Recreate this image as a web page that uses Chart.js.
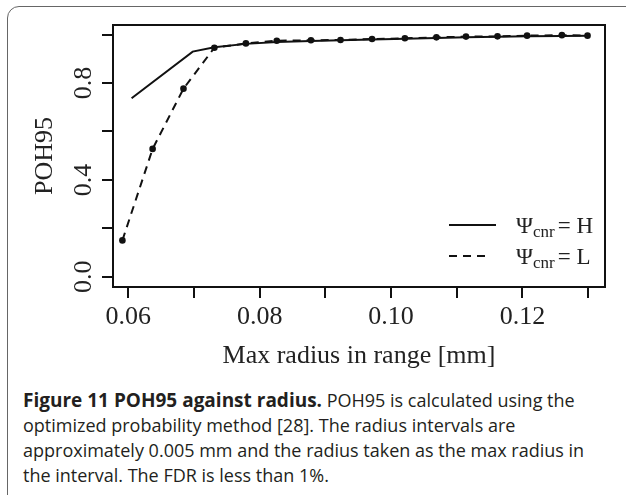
<!DOCTYPE html>
<html>
<head>
<meta charset="utf-8">
<script src="https://cdn.jsdelivr.net/npm/chart.js"></script>
<style>
    html, body { margin: 0; padding: 0; background: #fff; }
    body { width: 626px; height: 495px; position: relative; overflow: hidden; }
    #frame {
        position: absolute; left: 7px; top: 6px; width: 700px; height: 600px;
        border: 1.5px solid #666; border-radius: 12px; box-sizing: border-box;
    }
    #wrap { position: absolute; left: 0; top: 0; width: 626px; height: 380px; }
    #caption {
        position: absolute; left: 23px; top: 388px; width: 600px; white-space: nowrap;
        font-family: "Open Sans", sans-serif; font-size: 18px; line-height: 25px; color: #231f20;
    }
    #caption b { font-weight: 700; font-size: 19px; }
</style>
</head>
<body>
<div id="frame"></div>
<div id="wrap"><canvas id="chart" width="626" height="380"></canvas></div>
<div id="caption"><b>Figure 11 POH95 against radius.</b> POH95 is calculated using the<br>optimized probability method [28]. The radius intervals are<br>approximately 0.005 mm and the radius taken as the max radius in<br>the interval. The FDR is less than 1%.</div>
<script>
// max radius (mm) and POH95 for the two settings
const radiusH = [0.0605, 0.0698, 0.0731, 0.0779, 0.0826, 0.0878, 0.0923, 0.0971, 0.1021, 0.1069, 0.1114, 0.1162, 0.1207, 0.1260, 0.1299];
const pohH = [0.737, 0.930, 0.948, 0.962, 0.970, 0.974, 0.977, 0.980, 0.983, 0.986, 0.989, 0.991, 0.993, 0.995, 0.996];

const radiusL = [0.0591, 0.0637, 0.0684, 0.0731, 0.0779, 0.0826, 0.0878, 0.0923, 0.0971, 0.1021, 0.1069, 0.1114, 0.1162, 0.1207, 0.1260, 0.1299];
const pohL = [0.150, 0.528, 0.777, 0.946, 0.964, 0.975, 0.977, 0.978, 0.982, 0.985, 0.989, 0.992, 0.993, 0.996, 0.998, 0.996];

const xTicks = [0.06, 0.07, 0.08, 0.09, 0.10, 0.11, 0.12, 0.13];
const xTickLabels = ['0.06', '', '0.08', '', '0.10', '', '0.12', ''];
const yTicks = [0.0, 0.2, 0.4, 0.6, 0.8, 1.0];
const yTickLabels = ['0.0', '', '0.4', '', '0.8', ''];

const serif = '"Liberation Serif", "Times New Roman", serif';

function toPoints(xs, ys) {
    return xs.map((x, i) => ({x: x, y: ys[i]}));
}

const boxPlugin = {
    id: 'box',
    afterDraw(chart) {
        const ctx = chart.ctx;
        const area = chart.chartArea;
        const yScale = chart.scales.y;

        ctx.save();
        ctx.strokeStyle = '#111';
        ctx.lineWidth = 2;
        ctx.strokeRect(area.left, area.top, area.right - area.left, area.bottom - area.top);

        // rotated y tick labels, R style
        ctx.fillStyle = '#222';
        ctx.font = '26px ' + serif;
        ctx.textAlign = 'center';
        ctx.textBaseline = 'middle';
        yTicks.forEach((v, i) => {
            if (!yTickLabels[i]) return;
            ctx.save();
            ctx.translate(84, yScale.getPixelForValue(v));
            ctx.rotate(-Math.PI / 2);
            ctx.fillText(yTickLabels[i], 0, 0);
            ctx.restore();
        });

        // legend
        const rows = [{dash: [], label: 'H', y: 225}, {dash: [8, 6], label: 'L', y: 256}];
        rows.forEach(row => {
            ctx.setLineDash(row.dash);
            ctx.lineWidth = 2;
            ctx.beginPath();
            ctx.moveTo(449, row.y);
            ctx.lineTo(row.dash.length ? 491 : 496, row.y);
            ctx.stroke();
            ctx.setLineDash([]);

            let x = 516;
            ctx.textAlign = 'left';
            ctx.textBaseline = 'alphabetic';
            ctx.font = '23px ' + serif;
            ctx.fillText('\u03A8', x, row.y + 8);
            x += ctx.measureText('\u03A8').width;
            ctx.font = '17px ' + serif;
            ctx.fillText('cnr', x, row.y + 12);
            x += ctx.measureText('cnr').width + 3;
            ctx.font = '23px ' + serif;
            ctx.fillText('= ' + row.label, x, row.y + 8);
        });
        ctx.restore();
    }
};

new Chart(document.getElementById('chart'), {
    type: 'scatter',
    data: {
        datasets: [{
            label: 'H',
            data: toPoints(radiusH, pohH),
            showLine: true,
            borderColor: '#111',
            borderWidth: 2,
            pointRadius: 0,
            tension: 0
        }, {
            label: 'L',
            data: toPoints(radiusL, pohL),
            showLine: true,
            borderColor: '#111',
            borderWidth: 2,
            borderDash: [8, 6],
            pointRadius: 3.3,
            pointBackgroundColor: '#111',
            pointBorderWidth: 0,
            tension: 0
        }]
    },
    options: {
        responsive: false,
        animation: false,
        layout: {padding: {left: 0, top: 25, right: 21, bottom: 0}},
        plugins: {legend: {display: false}, tooltip: {enabled: false}},
        scales: {
            x: {
                type: 'linear',
                min: 0.05767,
                max: 0.13256,
                afterBuildTicks: scale => { scale.ticks = xTicks.map(v => ({value: v})); },
                afterFit: scale => { scale.height = 93; },
                ticks: {
                    color: '#222',
                    font: {family: serif, size: 26},
                    padding: 4,
                    maxRotation: 0,
                    autoSkip: false,
                    callback: (value, index) => xTickLabels[index]
                },
                grid: {drawOnChartArea: false, drawTicks: true, tickLength: 11, color: '#111', lineWidth: 2},
                border: {display: true, color: '#111', width: 2},
                title: {
                    display: true,
                    text: 'Max radius in range [mm]',
                    color: '#222',
                    font: {family: serif, size: 26},
                    padding: {top: 0, bottom: 8}
                }
            },
            y: {
                type: 'linear',
                min: -0.0426,
                max: 1.04,
                afterBuildTicks: scale => { scale.ticks = yTicks.map(v => ({value: v})); },
                afterFit: scale => { scale.width = 113; },
                ticks: {display: false},
                grid: {drawOnChartArea: false, drawTicks: true, tickLength: 11, color: '#111', lineWidth: 2},
                border: {display: true, color: '#111', width: 2},
                title: {
                    display: true,
                    text: 'POH95',
                    color: '#222',
                    font: {family: serif, size: 26},
                    padding: {top: 30, bottom: 0}
                }
            }
        }
    },
    plugins: [boxPlugin]
});
</script>
</body>
</html>
